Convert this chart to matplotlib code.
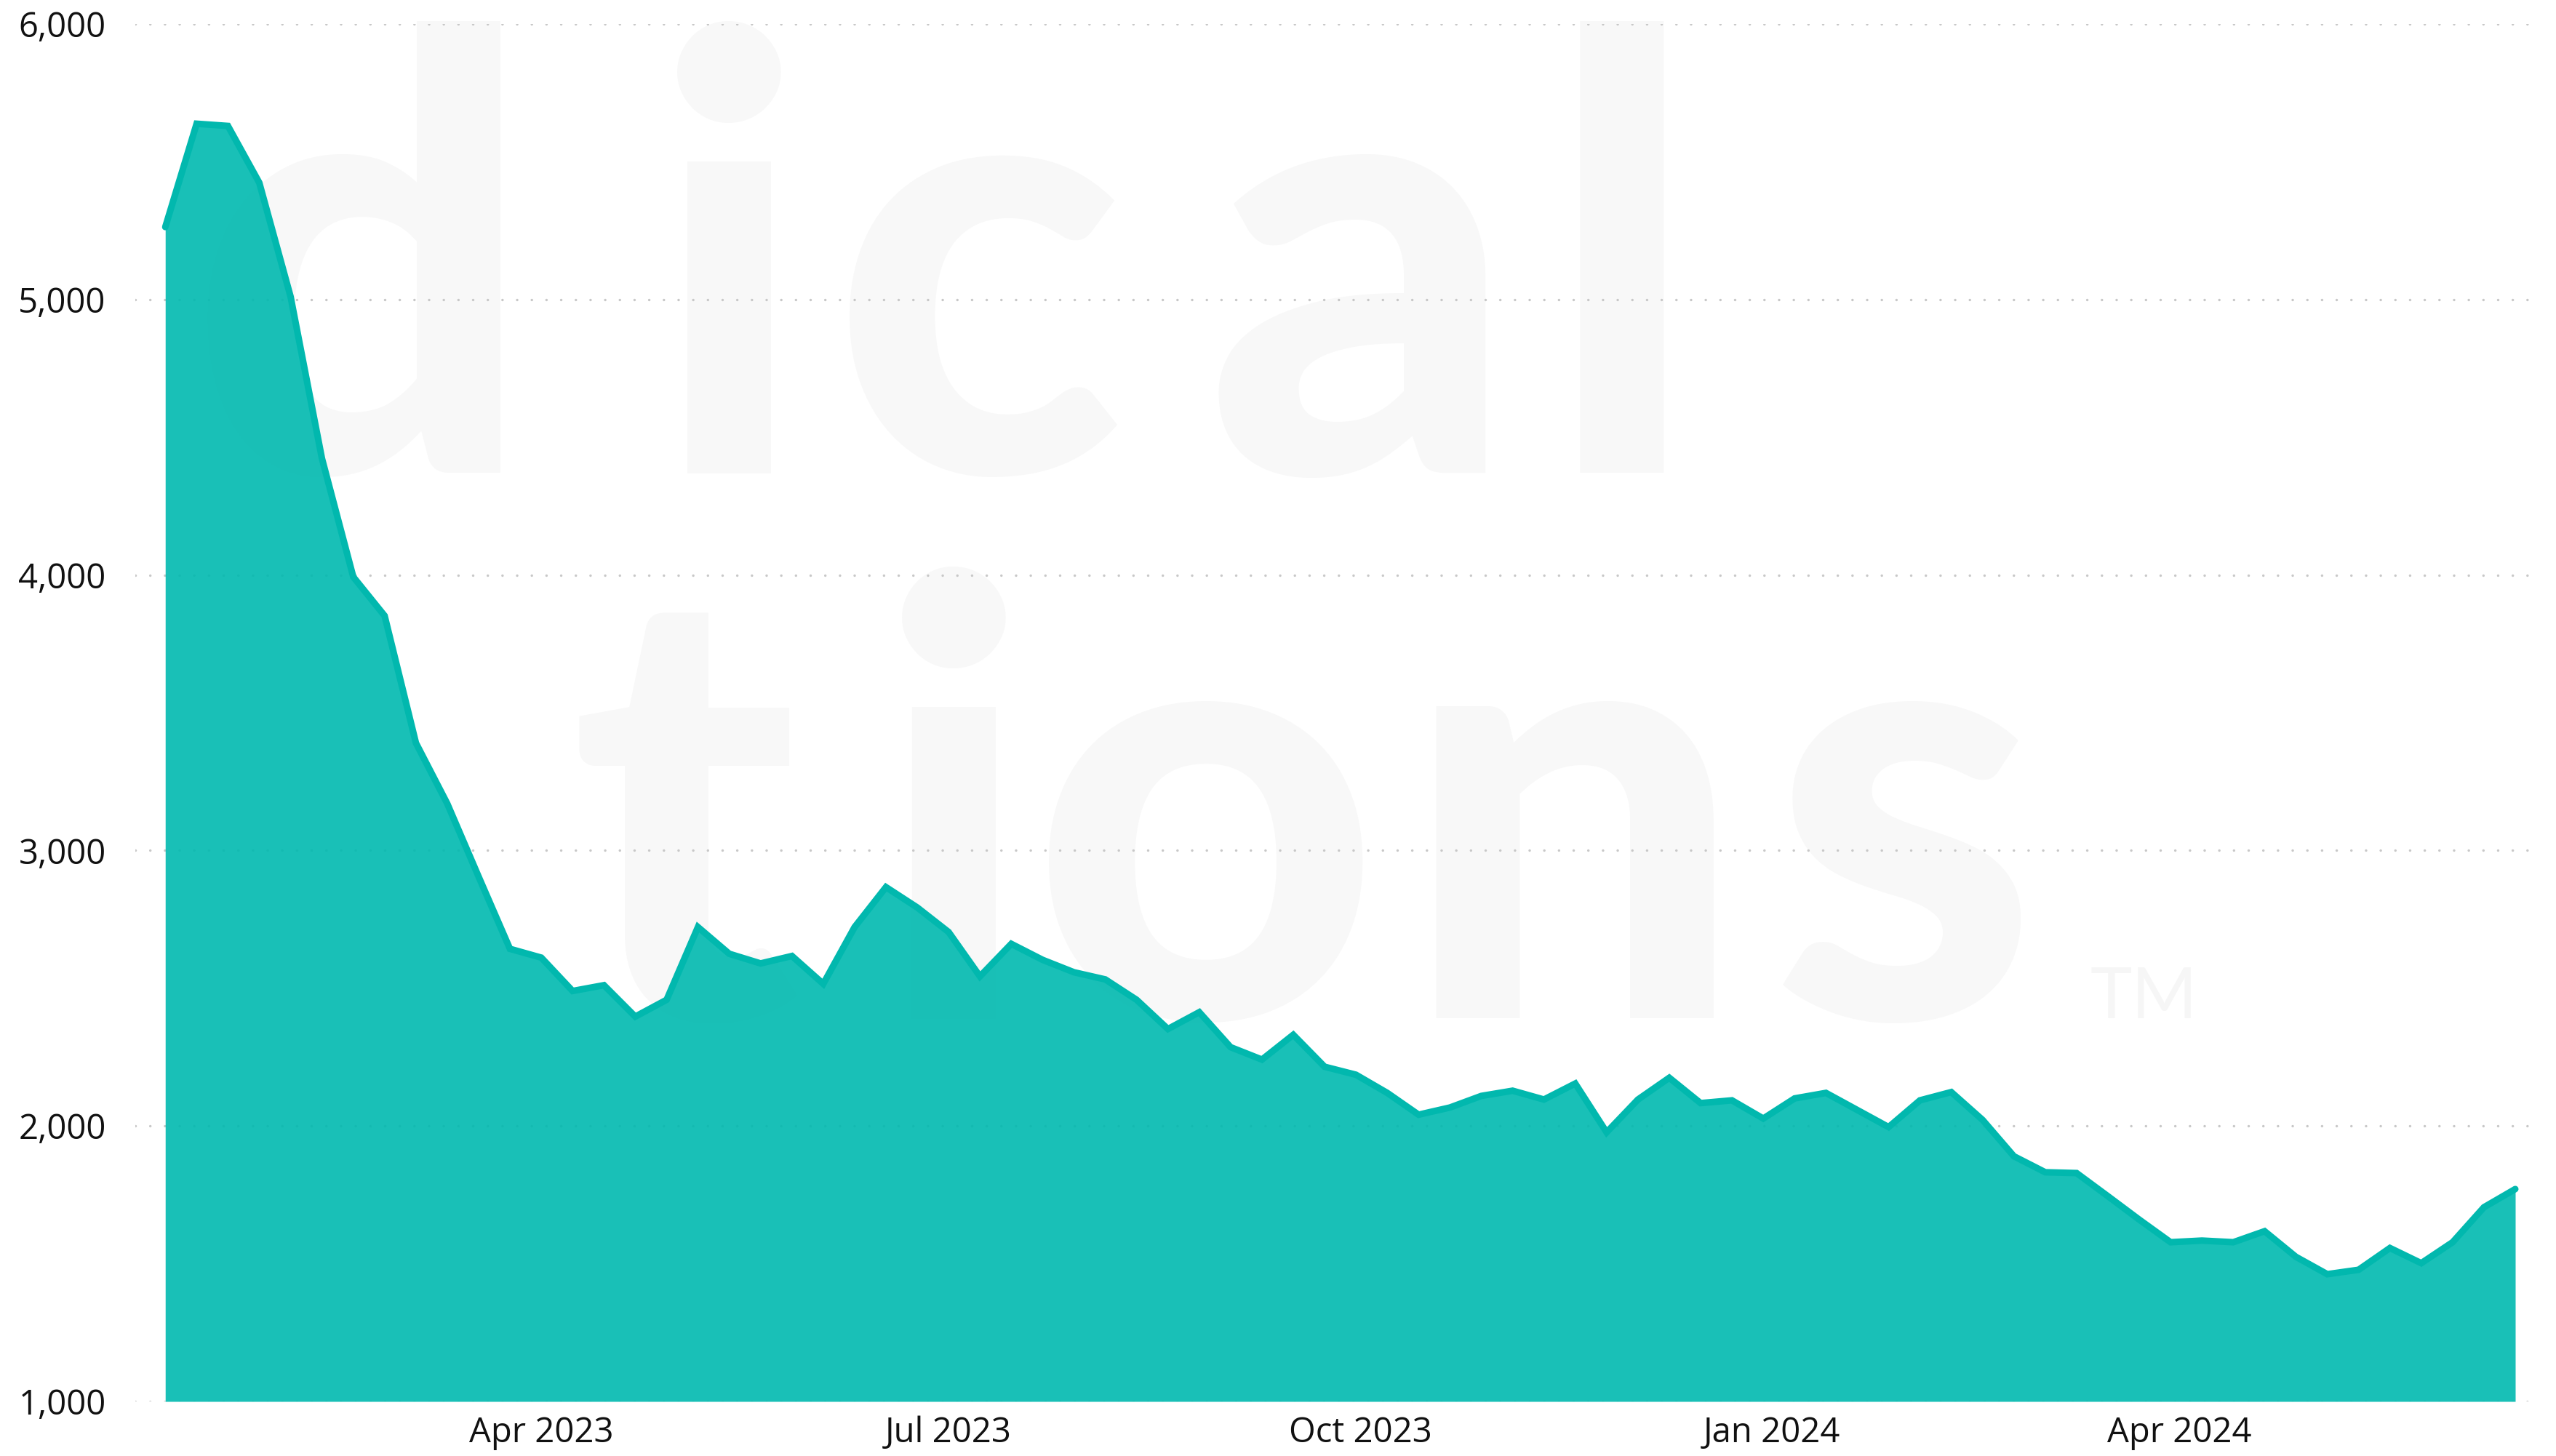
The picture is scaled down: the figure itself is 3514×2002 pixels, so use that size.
import numpy as np
import pandas as pd
import matplotlib
matplotlib.use("Agg")
import matplotlib.pyplot as plt
from matplotlib.ticker import FuncFormatter

# weekly series, first week starting 7 Jan 2023
week_start = "2023-01-07"
values = [5263, 5638, 5630, 5424, 5010, 4423, 3993, 3852, 3390, 3170,
          2905, 2643, 2611, 2490, 2511, 2397, 2458, 2722, 2625, 2590,
          2617, 2516, 2722, 2867, 2793, 2704, 2543, 2661, 2603, 2558,
          2532, 2458, 2352, 2413, 2286, 2241, 2331, 2215, 2186, 2120,
          2041, 2067, 2109, 2128, 2096, 2154, 1977, 2096, 2175, 2083,
          2093, 2027, 2100, 2120, 2058, 1996, 2093, 2123, 2022, 1890,
          1832, 1829, 1745, 1660, 1578, 1584, 1578, 1618, 1525, 1462,
          1478, 1557, 1502, 1578, 1705, 1771]
dates = pd.date_range(week_start, periods=len(values), freq="7D")

x_ticks = pd.to_datetime(["2023-04-01", "2023-07-01", "2023-10-01",
                          "2024-01-01", "2024-04-01"])
x_tick_labels = ["Apr 2023", "Jul 2023", "Oct 2023", "Jan 2024", "Apr 2024"]
y_ticks = [1000, 2000, 3000, 4000, 5000, 6000]

# faint logo watermark behind the chart: (letter, x px, baseline y px)
wm_letters = [("d", 497, 650), ("i", 1002, 650), ("c", 1345, 650),
              ("a", 1871, 650), ("l", 2230, 650),
              ("t", 941, 1400), ("i", 1311, 1400), ("o", 1658, 1400),
              ("n", 2163, 1400), ("s", 2618, 1400)]

W, H = 3514, 2002
fig = plt.figure(figsize=(W / 100, H / 100), dpi=100)
fig.patch.set_facecolor("white")

for ch, px, py in wm_letters:
    fig.text(px / W, 1 - py / H, ch, ha="center", va="baseline",
             fontsize=600, family="Lato", fontweight="black",
             color="#f8f8f8", zorder=-5)
fig.text(2947 / W, 1 - 1400 / H, "TM", ha="center", va="baseline",
         fontsize=70, family="Lato", color="#f6f6f6", zorder=-5)

ax = fig.add_axes([186 / W, 1 - 1927 / H, (3490 - 186) / W, (1927 - 33) / H])
ax.set_facecolor("none")

ax.fill_between(dates, values, 1000, color="#00b9af", alpha=0.9, lw=0, zorder=2)
ax.plot(dates, values, color="#01b8ae", lw=6.5, zorder=3,
        solid_joinstyle="miter", solid_capstyle="round")

ax.set_ylim(1000, 6000)
ax.set_xlim(dates[0] - pd.Timedelta(days=6.7), dates[-1] + pd.Timedelta(days=5.2))
ax.set_yticks(y_ticks)
ax.yaxis.set_major_formatter(FuncFormatter(lambda v, p: f"{int(v):,}"))
ax.set_xticks(x_ticks)
ax.set_xticklabels(x_tick_labels)

ax.grid(axis="y", color="#c8c8c8", linewidth=2.5,
        linestyle=(0, (0.01, 5.8)), dash_capstyle="round", zorder=1)
ax.grid(axis="x", visible=False)
ax.set_axisbelow(True)

for s in ax.spines.values():
    s.set_visible(False)
ax.tick_params(axis="both", length=0, labelsize=34, labelcolor="#111111")
ax.tick_params(axis="y", pad=29)
ax.tick_params(axis="x", pad=14)
for lab in ax.get_xticklabels() + ax.get_yticklabels():
    lab.set_family("Open Sans")

fig.savefig("out.png", dpi=100, facecolor="white")
